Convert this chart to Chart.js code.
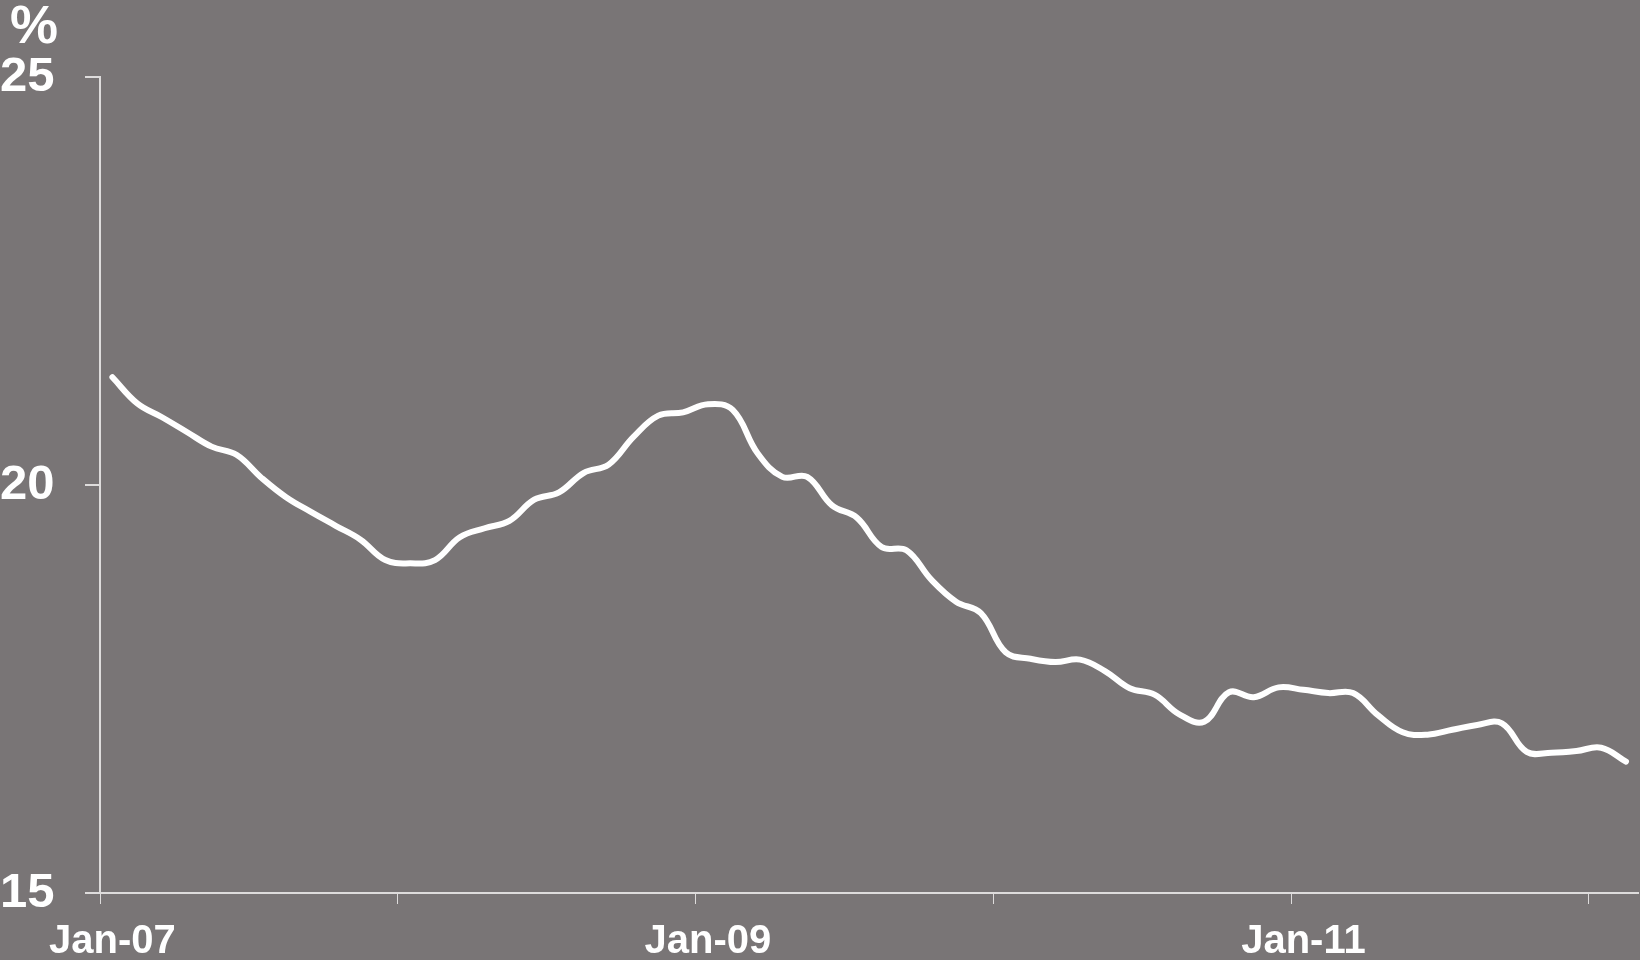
<!DOCTYPE html>
<html lang="en">
<head>
    <meta charset="UTF-8">
    <title>Share chart</title>
    <script src="https://cdn.jsdelivr.net/npm/chart.js"></script>
    <style>
        html, body {
            margin: 0;
            padding: 0;
            background-color: #797576;
        }
        .wrap {
            width: 1640px;
            height: 960px;
        }
    </style>
</head>
<body>
    <div class="wrap">
        <canvas id="myChart" width="1640" height="960"></canvas>
    </div>

    <script>
        // monthly, Jan-07 .. Feb-12
        const months = ['Jan','Feb','Mar','Apr','May','Jun','Jul','Aug','Sep','Oct','Nov','Dec'];
        const years = ['07','08','09','10','11','12'];
        const labels = [];
        years.forEach(y => months.forEach(m => labels.push(m + '-' + y)));
        labels.length = 62;

        const values = [
            21.32, 21.00, 20.83, 20.65, 20.47, 20.37, 20.09, 19.85, 19.67, 19.50, 19.33, 19.08,
            19.04, 19.08, 19.36, 19.47, 19.56, 19.82, 19.91, 20.15, 20.25, 20.59, 20.85, 20.89,
            20.99, 20.92, 20.39, 20.10, 20.10, 19.75, 19.60, 19.24, 19.20, 18.84, 18.57, 18.43,
            17.95, 17.87, 17.83, 17.86, 17.72, 17.51, 17.43, 17.19, 17.10, 17.46, 17.40, 17.52,
            17.49, 17.45, 17.45, 17.18, 16.97, 16.94, 17.00, 17.06, 17.08, 16.73, 16.72, 16.74,
            16.78, 16.61
        ];

        const yTicks = [15, 20, 25];
        const axisColor = '#dedcdc';

        // "%" unit label above the y axis
        const unitLabel = {
            id: 'unitLabel',
            afterDraw(chart) {
                const c = chart.ctx;
                c.save();
                c.fillStyle = '#ffffff';
                c.font = 'bold 54px "Liberation Sans", Arial, sans-serif';
                c.textAlign = 'center';
                c.textBaseline = 'alphabetic';
                c.fillText('%', 34, 43);
                c.restore();
            }
        };

        const ctx = document.getElementById('myChart').getContext('2d');
        const chart = new Chart(ctx, {
            type: 'line',
            data: {
                labels: labels,
                datasets: [{
                    data: values,
                    borderColor: '#ffffff',
                    borderWidth: 6,
                    borderCapStyle: 'round',
                    borderJoinStyle: 'round',
                    pointRadius: 0,
                    tension: 0.4,
                    fill: false
                }]
            },
            options: {
                responsive: false,
                animation: false,
                layout: {
                    padding: { top: 77, left: 0, right: 0, bottom: 0 }
                },
                plugins: {
                    legend: { display: false },
                    tooltip: { enabled: false }
                },
                scales: {
                    x: {
                        offset: true,
                        afterFit(scale) { scale.height = 67; },
                        grid: {
                            offset: true,
                            drawOnChartArea: false,
                            drawTicks: true,
                            tickLength: 11,
                            tickWidth: 1,
                            tickColor: (c) => (c.index !== undefined && c.index % 12 === 0) ? axisColor : 'rgba(0,0,0,0)'
                        },
                        border: { display: true, color: axisColor, width: 2 },
                        ticks: {
                            autoSkip: false,
                            maxRotation: 0,
                            minRotation: 0,
                            padding: 14,
                            color: '#ffffff',
                            font: { family: '"Liberation Sans", Arial, sans-serif', size: 40, weight: 'bold' },
                            callback: (v, i) => i % 24 === 0 ? labels[i] : ''
                        }
                    },
                    y: {
                        min: 15,
                        max: 25,
                        afterFit(scale) { scale.width = 100; },
                        afterBuildTicks(scale) { scale.ticks = yTicks.map(v => ({ value: v })); },
                        grid: {
                            drawOnChartArea: false,
                            drawTicks: true,
                            tickLength: 15,
                            color: axisColor,
                            lineWidth: 2
                        },
                        border: { display: true, color: axisColor, width: 2 },
                        ticks: {
                            crossAlign: 'far',
                            padding: 0,
                            color: '#ffffff',
                            font: { family: '"Liberation Sans", Arial, sans-serif', size: 49, weight: 'bold' }
                        }
                    }
                }
            },
            plugins: [unitLabel]
        });
    </script>
</body>
</html>
